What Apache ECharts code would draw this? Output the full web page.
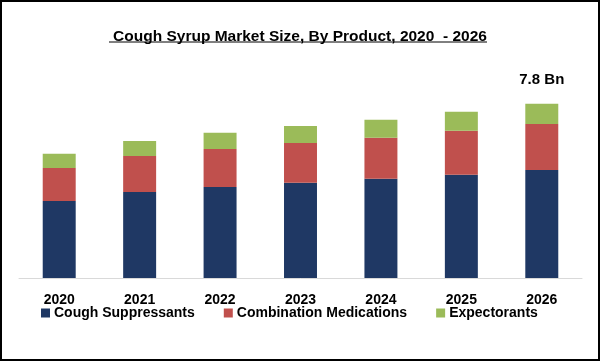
<!DOCTYPE html>
<html>
<head>
<meta charset="utf-8">
<script src="https://cdn.jsdelivr.net/npm/echarts@6/dist/echarts.min.js"></script>
<style>
html,body{margin:0;padding:0;background:#fff;}
#chart{width:600px;height:361px;}
</style>
</head>
<body>
<div id="chart"></div>
<script>
var years = ['2020','2021','2022','2023','2024','2025','2026'];
var coughSuppressants = [3.45, 3.85, 4.08, 4.26, 4.44, 4.62, 4.84];
var combinationMedications = [1.48, 1.61, 1.70, 1.79, 1.84, 1.97, 2.06];
var expectorants = [0.63, 0.67, 0.72, 0.76, 0.81, 0.85, 0.90];
var totalLabel = '7.8 Bn';

var FONT = '"Liberation Sans", Arial, sans-serif';
var chart = echarts.init(document.getElementById('chart'));
chart.setOption({
  animation: false,
  backgroundColor: '#fff',
  title: {
    text: 'Cough Syrup Market Size, By Product, 2020  - 2026',
    left: 'center',
    top: 24,
    textStyle: {fontFamily: FONT, fontSize: 15.5, fontWeight: 'bold', color: '#000'}
  },
  graphic: [
    {type: 'rect', shape: {x: 1, y: 1, width: 598, height: 359}, style: {fill: 'none', stroke: '#000', lineWidth: 2}, z: 100},
    {type: 'line', shape: {x1: 109, y1: 42, x2: 487, y2: 42}, style: {stroke: '#000', lineWidth: 1}}
  ],
  legend: {
    bottom: 36,
    left: 36,
    itemWidth: 9,
    itemHeight: 9,
    itemGap: 29,
    icon: 'rect',
    textStyle: {fontFamily: FONT, fontSize: 14, fontWeight: 'bold', color: '#000', padding: [0,0,0,-1]},
    data: ['Cough Suppressants', 'Combination Medications', 'Expectorants']
  },
  grid: {left: 19, right: 18, top: 77, bottom: 83},
  xAxis: {
    type: 'category',
    data: years,
    axisLine: {lineStyle: {color: '#d9d9d9', width: 1}},
    axisTick: {show: false},
    axisLabel: {fontFamily: FONT, fontSize: 14, fontWeight: 'bold', color: '#000', margin: 15}
  },
  yAxis: {type: 'value', min: 0, max: 9, show: false, splitLine: {show: false}},
  series: [
    {name: 'Cough Suppressants', type: 'bar', stack: 'a', barWidth: '41%', data: coughSuppressants, itemStyle: {color: '#1f3864'}},
    {name: 'Combination Medications', type: 'bar', stack: 'a', data: combinationMedications, itemStyle: {color: '#c0504d'}},
    {name: 'Expectorants', type: 'bar', stack: 'a', data: expectorants, itemStyle: {color: '#9bbb59'},
      label: {show: true, position: 'top', distance: 16, fontFamily: FONT, fontSize: 15, fontWeight: 'bold', color: '#000',
        formatter: function (p) { return p.dataIndex === years.length - 1 ? totalLabel : ''; }}}
  ]
});
</script>
</body>
</html>
